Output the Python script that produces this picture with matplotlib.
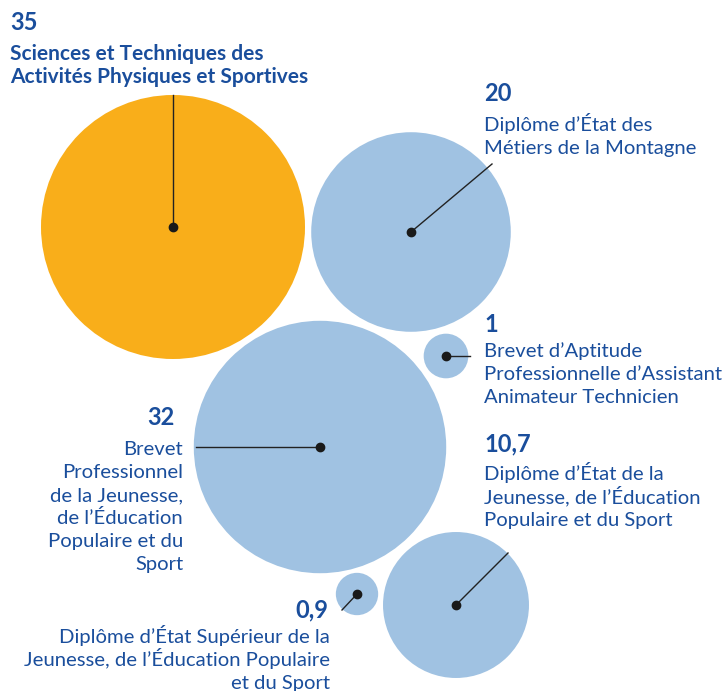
import matplotlib.pyplot as plt
from matplotlib.patches import Circle
import numpy as np

# values (area of each bubble)
values = [35, 20, 1, 32, 10.7, 0.9]
numbers = ["35", "20", "1", "32", "10,7", "0,9"]
labels = [
    "Sciences et Techniques des\nActivités Physiques et Sportives",
    "Diplôme d’État des\nMétiers de la Montagne",
    "Brevet d’Aptitude\nProfessionnelle d’Assistant\nAnimateur Technicien",
    "Brevet\nProfessionnel\nde la Jeunesse,\nde l’Éducation\nPopulaire et du\nSport",
    "Diplôme d’État de la\nJeunesse, de l’Éducation\nPopulaire et du Sport",
    "Diplôme d’État Supérieur de la\nJeunesse, de l’Éducation Populaire\net du Sport",
]
highlight = [True, False, False, False, False, False]

# layout (pixels): bubble centre, leader end, number baseline, first label baseline, alignment
centres = [(173, 227), (411, 232), (446, 356), (320, 447), (456, 605), (357, 594)]
leader_ends = [(173, 95), (492, 164), (470, 356), (196, 447), (508, 553), (342, 610)]
num_pos = [(10, 30), (484, 101), (484, 332), (175, 425), (484, 451), (328, 617)]
lab_pos = [(10, 60), (484, 131), (484, 357), (183, 455), (484, 480), (330, 643)]
align = ["left", "left", "left", "right", "left", "right"]
line_h = 23

orange = "#F9AE1A"
blue = "#A0C2E2"
text_col = "#1A4E9C"
k = 132 / np.sqrt(35)

plt.rcParams['font.family'] = ['Lato', 'DejaVu Sans']
fig = plt.figure(figsize=(7.24, 6.91), dpi=100)
ax = fig.add_axes([0, 0, 1, 1])
ax.set_xlim(0, 724)
ax.set_ylim(691, 0)
ax.set_aspect('equal')
ax.axis('off')

for i, v in enumerate(values):
    cx, cy = centres[i]
    col = orange if highlight[i] else blue
    ax.add_patch(Circle((cx, cy), k * np.sqrt(v), color=col, lw=0, zorder=1))
    ex, ey = leader_ends[i]
    ax.plot([cx, ex], [cy, ey], color="#222222", lw=1, zorder=2)
    ax.plot(cx, cy, 'o', color="#1a1a1a", ms=6, zorder=3)
    ax.text(num_pos[i][0], num_pos[i][1], numbers[i], ha=align[i], va='baseline',
            fontsize=17, fontweight='bold', color=text_col)
    lines = labels[i].split("\n")
    for j, line in enumerate(lines):
        ax.text(lab_pos[i][0], lab_pos[i][1] + j * line_h, line, ha=align[i], va='baseline',
                fontsize=15 if highlight[i] else 14.6, color=text_col,
                fontweight='bold' if highlight[i] else 'normal')

fig.savefig("out.png", dpi=100)
